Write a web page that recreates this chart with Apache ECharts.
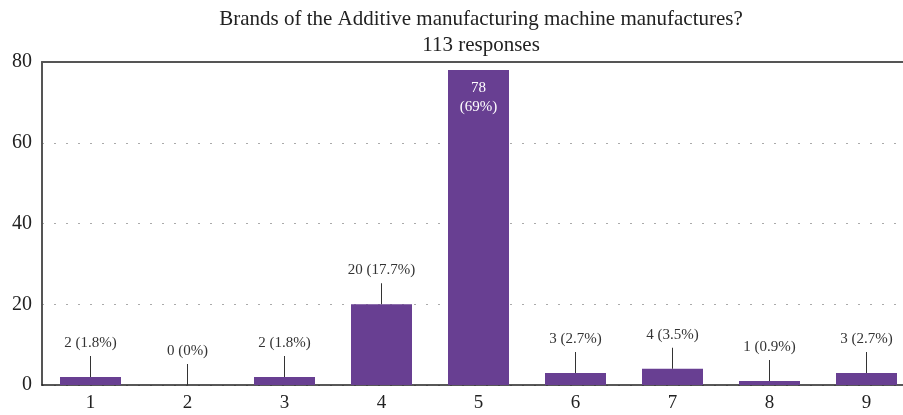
<!DOCTYPE html>
<html>
<head>
<meta charset="utf-8">
<script src="https://cdn.jsdelivr.net/npm/echarts@6/dist/echarts.min.js"></script>
<style>
  html, body { margin: 0; padding: 0; background: #fff; }
  #chart { width: 903px; height: 415px; }
</style>
</head>
<body>
<div id="chart"></div>
<script>
// Survey answers: machine brand choices
const titleText = 'Brands of the Additive manufacturing machine manufactures?';
const subtitleText = '113 responses';
const categories = ['1', '2', '3', '4', '5', '6', '7', '8', '9'];
const counts = [2, 0, 2, 20, 78, 3, 4, 1, 3];
const shares = ['1.8%', '0%', '1.8%', '17.7%', '69%', '2.7%', '3.5%', '0.9%', '2.7%'];
const yTicks = [0, 20, 40, 60, 80];

const FONT = 'Liberation Serif';
const BAR = '#683f92';

// bars above this count carry their label inside the bar
const INSIDE_LIMIT = 50;

const seriesData = counts.map((v, i) => {
  const item = { value: v };
  if (v > INSIDE_LIMIT) {
    item.label = {
      position: 'insideTop',
      distance: 8,
      formatter: v + '\n(' + shares[i] + ')',
      color: '#fff',
      fontSize: 15,
      lineHeight: 19,
      fontFamily: FONT,
      rich: {}
    };
  }
  return item;
});

const chart = echarts.init(document.getElementById('chart'));
chart.setOption({
  animation: false,
  title: {
    text: titleText,
    subtext: subtitleText,
    left: 476,
    textAlign: 'center',
    top: 4,
    itemGap: 5,
    textStyle: { fontFamily: FONT, fontSize: 21, fontWeight: 'normal', color: '#222' },
    subtextStyle: { fontFamily: FONT, fontSize: 21, color: '#222' }
  },
  // plot area runs past the right edge of the canvas
  grid: { left: 42, width: 873, top: 62, bottom: 30, outerBoundsMode: 'none', containLabel: false },
  xAxis: [{
    type: 'category',
    data: categories,
    axisTick: { show: false },
    axisLine: { lineStyle: { color: '#222', width: 1.5 } },
    axisLabel: { fontFamily: FONT, fontSize: 19, color: '#222', margin: 9 }
  }, {
    type: 'category',
    position: 'top',
    data: categories,
    axisTick: { show: false },
    axisLabel: { show: false },
    axisLine: { lineStyle: { color: '#555', width: 2 } }
  }],
  yAxis: {
    type: 'value',
    min: yTicks[0],
    max: yTicks[yTicks.length - 1],
    interval: yTicks[1] - yTicks[0],
    axisLine: { show: true, lineStyle: { color: '#555', width: 2 } },
    axisTick: { show: false },
    axisLabel: { fontFamily: FONT, fontSize: 20, color: '#222', margin: 10 },
    splitLine: { lineStyle: { color: '#aaa', type: [2, 10], width: 1 } }
  },
  series: [{
    type: 'bar',
    data: seriesData,
    barWidth: 61,
    itemStyle: { color: BAR },
    label: {
      show: true,
      position: 'top',
      distance: 0,
      formatter: p => '{t|' + p.value + ' (' + shares[p.dataIndex] + ')}\n{l|}',
      rich: {
        t: { fontFamily: FONT, fontSize: 15, color: '#333', lineHeight: 26 },
        l: { width: 1, height: 21, lineHeight: 21, backgroundColor: '#333' }
      }
    }
  }]
});
</script>
</body>
</html>
